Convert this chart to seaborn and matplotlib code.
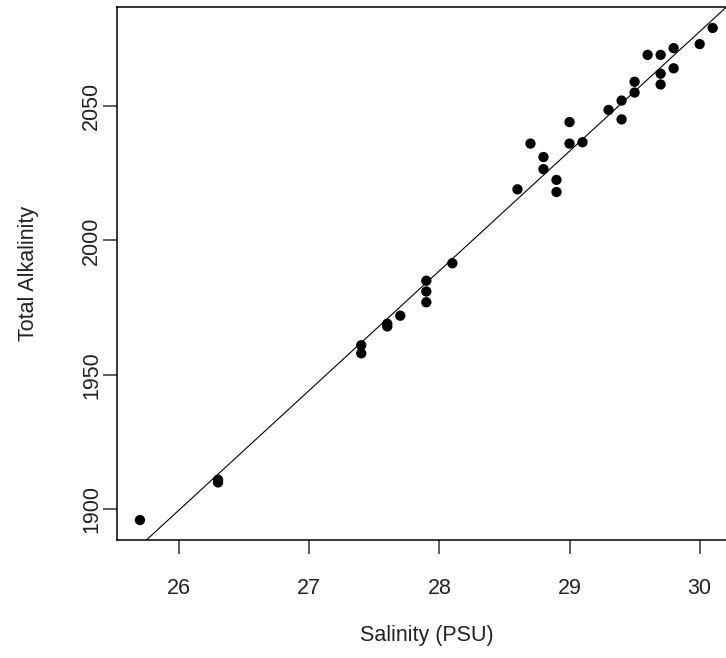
import numpy as np
import pandas as pd
import matplotlib
matplotlib.use("Agg")
import matplotlib.pyplot as plt
import seaborn as sns

# Salinity (PSU) and total alkalinity
salinity = [25.7, 26.3, 26.3, 27.4, 27.4, 27.6, 27.6, 27.7, 27.9, 27.9,
            27.9, 28.1, 28.6, 28.7, 28.8, 28.8, 28.9, 28.9, 29.0, 29.0,
            29.1, 29.3, 29.4, 29.4, 29.5, 29.5, 29.6, 29.7, 29.7, 29.7,
            29.8, 29.8, 30.0, 30.1]
alkalinity = [1896, 1910, 1911, 1961, 1958, 1969, 1968, 1972, 1985, 1981,
              1977, 1991.5, 2019, 2036, 2031, 2026.5, 2022.5, 2018, 2044, 2036,
              2036.5, 2048.5, 2045, 2052, 2055, 2059, 2069, 2069, 2062, 2058,
              2071.5, 2064, 2073, 2079]

x_ticks = [26, 27, 28, 29, 30]
y_ticks = [1900, 1950, 2000, 2050]

df = pd.DataFrame({"Salinity": salinity, "Alkalinity": alkalinity})

sns.set_style("ticks")
plt.rcParams["font.family"] = ["Liberation Sans", "DejaVu Sans"]

fig = plt.figure(figsize=(7.26, 6.58), dpi=100)
# right edge of the box falls outside the picture, as in the reference
ax = fig.add_axes([117.3 / 726, 117.7 / 658, 618.3 / 726, 533.3 / 658])

sns.scatterplot(data=df, x="Salinity", y="Alkalinity", ax=ax,
                color="black", edgecolor="none", s=55, legend=False, zorder=3)

# least squares line across the whole panel, like abline(lm(...))
slope, intercept = np.polyfit(df["Salinity"], df["Alkalinity"], 1)
ax.axline((26, intercept + slope * 26), slope=slope, color="black", lw=0.8)

ax.set_xlim(25.526, 30.276)
ax.set_ylim(1888.47, 2086.8)
ax.set_xticks(x_ticks)
ax.set_yticks(y_ticks)
ax.set_yticklabels([str(v) for v in y_ticks], rotation=90, va="center")

for s in ax.spines.values():
    s.set_visible(True)
    s.set_linewidth(1.1)
    s.set_color("black")
ax.tick_params(length=10, width=1.1, color="#333333", labelsize=15.5,
               labelcolor="#222222")
ax.tick_params(axis="x", pad=17)
ax.tick_params(axis="y", pad=1)

ax.set_xlabel("Salinity (PSU)", fontsize=15.5, color="#222222", labelpad=19)
ax.set_ylabel("Total Alkalinity", fontsize=15.5, color="#222222", labelpad=30)

fig.savefig("out.png", dpi=100)
